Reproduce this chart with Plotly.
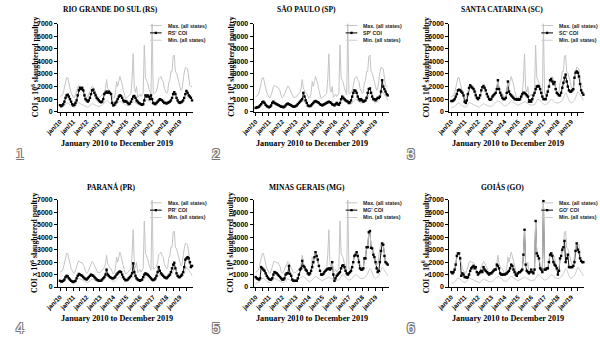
import pandas as pd
import plotly.graph_objects as go

# Monthly series, January 2010 to December 2019 (COI x 10^6 slaughtered poultry)
months = pd.date_range("2010-01-01", periods=120, freq="MS")

max_all_states = [
    1200, 1250, 1300, 1500, 1900, 2500, 2700, 2700, 2300, 1650, 1500, 1350,
    1150, 1100, 1300, 1600, 1950, 2100, 2000, 1950, 1950, 1800, 1650, 1250,
    1100, 1200, 1400, 1750, 1950, 2050, 1950, 1750, 1450, 1300, 1150, 1150,
    1150, 1250, 1350, 1450, 1550, 1850, 2550, 1850, 1650, 1550, 1450, 1150,
    1050, 1150, 1500, 2400, 2000, 2400, 2800, 2500, 2200, 1700, 1350, 1050,
    1100, 1200, 1250, 1350, 1450, 2600, 4600, 1850, 1550, 2000, 1150, 1250,
    1400, 1200, 1350, 1500, 5300, 2700, 2500, 2300, 1850, 1550, 1350, 7000,
    1450, 1450, 1550, 1650, 2050, 2600, 2700, 2800, 2550, 2400, 1850, 1550,
    1450, 1550, 2300, 2500, 3200, 3200, 4400, 4500, 3150, 3100, 2600, 2400,
    2000, 1700, 1800, 2700, 3100, 3500, 3500, 3400, 2500, 2100, 2000, 2000,
]

min_all_states = [
    300, 300, 350, 400, 500, 600, 700, 700, 650, 550, 450, 400,
    350, 350, 450, 600, 750, 700, 650, 600, 550, 500, 450, 400,
    400, 350, 400, 500, 600, 650, 600, 550, 500, 450, 400, 400,
    450, 450, 550, 650, 750, 800, 850, 850, 750, 700, 650, 500,
    450, 450, 500, 600, 700, 800, 850, 800, 750, 700, 600, 550,
    500, 550, 600, 650, 700, 750, 800, 750, 700, 600, 550, 500,
    500, 550, 550, 550, 700, 900, 1000, 950, 900, 800, 700, 600,
    550, 600, 600, 700, 800, 900, 1000, 950, 900, 800, 700, 700,
    650, 700, 750, 800, 900, 1100, 1400, 1500, 1400, 1100, 900, 750,
    700, 750, 800, 900, 1100, 1400, 1600, 1500, 1300, 1200, 1100, 900,
]

rs_coi = [
    520, 450, 500, 600, 800, 1100, 1300, 1350, 1200, 1000, 800, 600,
    500, 550, 700, 900, 1300, 1700, 1900, 1800, 1900, 1700, 1300, 1000,
    900, 800, 900, 1100, 1400, 1700, 1750, 1500, 1300, 1100, 1000, 900,
    800, 750, 800, 1000, 1400, 1500, 1600, 1500, 1600, 1500, 1400, 700,
    500, 550, 700, 800, 1000, 1200, 1300, 1250, 1100, 900, 800, 850,
    800, 700, 600, 650, 800, 1000, 1200, 1250, 1100, 900, 800, 700,
    650, 600, 550, 600, 900, 1300, 1200, 1300, 1200, 1000, 1300, 1000,
    700, 650, 600, 700, 800, 900, 1000, 950, 900, 800, 700, 700,
    650, 700, 750, 800, 900, 1100, 1400, 1550, 1400, 1100, 900, 750,
    700, 750, 800, 900, 1100, 1400, 1650, 1500, 1300, 1200, 1100, 900,
]

sp_coi = [
    300, 350, 350, 400, 500, 600, 750, 800, 700, 550, 450, 400,
    350, 400, 500, 700, 800, 700, 650, 600, 550, 500, 450, 400,
    400, 350, 400, 500, 600, 650, 600, 550, 500, 450, 400, 400,
    450, 500, 600, 700, 800, 900, 1000, 1500, 1200, 900, 700, 500,
    450, 450, 500, 600, 700, 800, 850, 800, 750, 700, 600, 550,
    500, 550, 600, 650, 700, 750, 800, 750, 700, 600, 550, 500,
    600, 700, 600, 550, 700, 1000, 1200, 1100, 1000, 900, 850, 800,
    700, 750, 900, 1200, 1500, 1700, 1650, 1500, 1200, 1000, 900, 1000,
    900, 800, 850, 900, 1100, 1500, 1800, 1850, 1500, 1200, 1000, 1000,
    900, 1000, 1100, 1100, 1200, 1600, 2500, 2000, 1800, 1600, 1400, 1300,
]

sc_coi = [
    850, 850, 900, 1000, 1200, 1400, 1700, 1750, 1700, 1600, 1500, 1300,
    800, 700, 900, 1400, 1900, 2100, 2000, 1900, 1800, 1600, 1300, 1100,
    1000, 1100, 1300, 1700, 1950, 2050, 1900, 1700, 1400, 1200, 1000, 950,
    1000, 1200, 1300, 1400, 1500, 1800, 2500, 1800, 1500, 1300, 1100, 1000,
    1000, 1100, 1500, 2400, 1600, 1400, 1300, 1200, 1100, 1000, 1000, 950,
    1000, 950, 1000, 1200, 1400, 1500, 1500, 1400, 1300, 1200, 800, 900,
    800, 1000, 1300, 1500, 1800, 2000, 2050, 2000, 1800, 1500, 1200, 1000,
    1000, 1000, 1300, 1600, 2000, 2500, 2600, 2400, 2200, 2350, 1800, 1500,
    1400, 1300, 1300, 1500, 1900, 2300, 2700, 2950, 2400, 2000, 1700, 1600,
    1600, 1700, 1800, 2700, 3100, 3200, 3100, 2800, 2200, 1700, 1500, 1350,
]

pr_coi = [
    500, 450, 450, 500, 600, 800, 900, 850, 700, 600, 500, 450,
    400, 450, 500, 700, 900, 1050, 1000, 950, 900, 800, 700, 650,
    600, 700, 800, 900, 1000, 950, 900, 800, 700, 600, 550, 500,
    500, 500, 600, 700, 800, 1000, 1400, 1000, 900, 800, 750, 700,
    700, 750, 850, 1000, 1100, 1200, 1250, 1200, 1000, 800, 650, 550,
    550, 600, 700, 800, 900, 1100, 1900, 1200, 900, 700, 600, 550,
    500, 550, 600, 800, 1000, 1100, 1050, 1000, 900, 800, 700, 600,
    550, 600, 700, 900, 1200, 1600, 1300, 1100, 1000, 900, 800, 750,
    700, 800, 900, 1000, 1200, 1500, 1800, 1950, 1500, 1100, 900, 800,
    800, 900, 1000, 1200, 1600, 2200, 2300, 2400, 2300, 2000, 1600, 1700,
]

mg_coi = [
    800, 700, 650, 600, 700, 1600, 1500, 1400, 1300, 1100, 900, 750,
    650, 600, 600, 700, 1000, 1200, 1150, 1100, 1000, 900, 800, 700,
    600, 600, 700, 1000, 1100, 1100, 1700, 1050, 900, 600, 500, 500,
    500, 500, 700, 1000, 1400, 1500, 2100, 1700, 1600, 1400, 1300, 1100,
    1000, 1100, 1300, 1600, 2000, 2400, 2800, 2500, 2200, 1700, 1300, 1000,
    1000, 1050, 1200, 1300, 1400, 1450, 1500, 1400, 1500, 2000, 1000, 500,
    700, 900, 1000, 1100, 1200, 1500, 1700, 1750, 1600, 1300, 1100, 1000,
    1100, 1200, 1300, 1600, 2000, 2500, 2600, 2800, 2500, 2000, 1500, 1400,
    1400, 1500, 2300, 2300, 3200, 3200, 4400, 4500, 3150, 3100, 2600, 2400,
    2000, 1500, 1200, 1300, 2000, 2900, 3500, 3400, 2500, 2000, 1900, 1800,
]

go_coi = [
    1200, 1100, 1200, 1400, 1800, 2500, 2700, 2700, 2300, 900, 1100, 1000,
    800, 800, 750, 800, 1000, 1300, 1500, 1600, 1700, 1500, 1600, 1200,
    1000, 1100, 1200, 1300, 1200, 1600, 1400, 1300, 1200, 1100, 1000, 1100,
    1100, 1200, 1300, 1400, 1400, 1800, 1700, 1500, 1100, 1000, 1000, 1000,
    1000, 1050, 1100, 1200, 1300, 1500, 1800, 1700, 1400, 1200, 1000, 900,
    1100, 1200, 1200, 1300, 1400, 2600, 4600, 1800, 1300, 1200, 1100, 1200,
    1400, 1200, 1100, 1400, 5300, 2700, 2500, 2300, 1500, 1400, 1200, 6900,
    1400, 1400, 1500, 1500, 2000, 2600, 2700, 2500, 2000, 1800, 1700, 1500,
    1000, 1300, 2300, 2500, 3000, 3200, 3700, 2000, 2300, 2600, 1600, 1600,
    1600, 1600, 1700, 2000, 2900, 3500, 3000, 2800, 2300, 2100, 2000, 2000,
]

panel_titles = [
    "RIO GRANDE DO SUL (RS)", "SÃO PAULO (SP)", "SANTA CATARINA (SC)",
    "PARANÁ (PR)", "MINAS GERAIS (MG)", "GOIÁS (GO)",
]
state_codes = ["RS", "SP", "SC", "PR", "MG", "GO"]
state_series = [rs_coi, sp_coi, sc_coi, pr_coi, mg_coi, go_coi]
panel_numbers = ["1", "2", "3", "4", "5", "6"]

y_tick_values = [0, 1000, 2000, 3000, 4000, 5000, 6000, 7000]
year_labels = ["jan/10", "jan/11", "jan/12", "jan/13", "jan/14",
               "jan/15", "jan/16", "jan/17", "jan/18", "jan/19"]
jan_ticks = pd.date_range("2010-01-01", "2019-01-01", freq="12MS")
jul_ticks = pd.date_range("2010-07-01", "2019-07-01", freq="12MS")

# Page geometry (pixels) used to place each panel
W, H = 600, 339
col_offset = [0, 200, 400]
row_plot = [(20, 110), (200, 289)]   # top / bottom pixel of each plot area
row_title = [6, 187]
row_xtitle = [142, 321]
row_number = [153, 331]
row_legend = [22, 203]


def fx(px):
    return px / W


def fy(py):
    return 1 - py / H


SANS = "Liberation Sans, Arial, sans-serif"
SERIF = "Liberation Serif, Times New Roman, serif"
GREY_MAX = "#c4c4c4"
GREY_MIN = "#cdcdcd"

fig = go.Figure()
layout = dict(
    width=W, height=H,
    margin=dict(l=0, r=0, t=0, b=0),
    paper_bgcolor="white", plot_bgcolor="white",
    showlegend=False,
)
annotations = []
shapes = []

for i in range(6):
    r, c = divmod(i, 3)
    ox = col_offset[c]
    top, bottom = row_plot[r]
    suffix = "" if i == 0 else str(i + 1)
    xref, yref = "x" + suffix, "y" + suffix
    state_name = f"{state_codes[i]}' COI"

    # state line underneath, envelope lines over it, markers on top
    fig.add_trace(go.Scatter(
        x=months, y=state_series[i], mode="lines", name=state_name,
        line=dict(color="black", width=0.9), xaxis=xref, yaxis=yref,
    ))
    fig.add_trace(go.Scatter(
        x=months, y=max_all_states, mode="lines", name="Max. (all states)",
        line=dict(color=GREY_MAX, width=1), xaxis=xref, yaxis=yref,
    ))
    fig.add_trace(go.Scatter(
        x=months, y=min_all_states, mode="lines", name="Min. (all states)",
        line=dict(color=GREY_MIN, width=1), xaxis=xref, yaxis=yref,
    ))
    fig.add_trace(go.Scatter(
        x=months, y=state_series[i], mode="markers", name=state_name,
        marker=dict(symbol="square", size=2.4, color="black"),
        xaxis=xref, yaxis=yref, cliponaxis=False,
    ))

    layout["xaxis" + suffix] = dict(
        domain=[fx(ox + 46), fx(ox + 184)],
        range=["2009-11-07", "2019-12-28"],
        anchor=yref, showgrid=False, zeroline=False,
        showline=True, linecolor="black", linewidth=1,
        ticks="outside", ticklen=3, tickwidth=1, tickcolor="black",
        tickmode="array", tickvals=jan_ticks, ticktext=year_labels,
        tickangle=-45,
        tickfont=dict(family=SANS, size=6.3, color="black", weight="bold"),
        minor=dict(tickmode="array", tickvals=jul_ticks, ticks="outside",
                   ticklen=3, tickwidth=1, tickcolor="black", showgrid=False),
    )
    layout["yaxis" + suffix] = dict(
        domain=[fy(bottom), fy(top)], range=[0, 7000],
        anchor=xref, showgrid=False, zeroline=False,
        showline=True, linecolor="black", linewidth=1,
        ticks="outside", ticklen=3, tickwidth=1, tickcolor="black",
        tickmode="array", tickvals=y_tick_values,
        tickfont=dict(family=SANS, size=7, color="black", weight="bold"),
    )

    # panel title
    annotations.append(dict(
        text=panel_titles[i], x=fx(ox + 100), y=fy(row_title[r]),
        xref="paper", yref="paper", showarrow=False,
        xanchor="center", yanchor="middle",
        font=dict(family=SERIF, size=7.5, color="black", weight="bold"),
    ))
    # y-axis title
    annotations.append(dict(
        text="COI x 10<sup>6</sup> slaughtered poultry",
        x=fx(ox + 22), y=fy((top + bottom) / 2 - 1),
        xref="paper", yref="paper", showarrow=False, textangle=-90,
        xanchor="center", yanchor="middle",
        font=dict(family=SERIF, size=7.8, color="black", weight="bold"),
    ))
    # x-axis title
    annotations.append(dict(
        text="January 2010 to December 2019",
        x=fx(ox + 106), y=fy(row_xtitle[r]),
        xref="paper", yref="paper", showarrow=False,
        xanchor="center", yanchor="middle",
        font=dict(family=SERIF, size=8.2, color="black", weight="bold"),
    ))
    # outlined panel number
    annotations.append(dict(
        text=panel_numbers[i], x=fx(ox + 7), y=fy(row_number[r]),
        xref="paper", yref="paper", showarrow=False,
        xanchor="center", yanchor="middle",
        font=dict(family=SANS, size=14, color="white",
                  shadow="-1px -1px 0 #777, 1px -1px 0 #777, "
                         "-1px 1px 0 #777, 1px 1px 0 #777"),
    ))

    # legend block
    ly = row_legend[r]
    legend_rows = [
        ("Max. (all states)", GREY_MAX, False),
        (state_name, "black", True),
        ("Min. (all states)", GREY_MIN, False),
    ]
    for k, (label, colr, with_marker) in enumerate(legend_rows):
        yy = ly + k * 7.5
        shapes.append(dict(
            type="line", xref="paper", yref="paper",
            x0=fx(ox + 140), x1=fx(ox + 152), y0=fy(yy), y1=fy(yy),
            line=dict(color=colr, width=1),
        ))
        if with_marker:
            shapes.append(dict(
                type="rect", xref="paper", yref="paper",
                x0=fx(ox + 144.8), x1=fx(ox + 147.2),
                y0=fy(yy + 1.2), y1=fy(yy - 1.2),
                fillcolor="black", line=dict(width=0),
            ))
        annotations.append(dict(
            text=label, x=fx(ox + 156), y=fy(yy),
            xref="paper", yref="paper", showarrow=False,
            xanchor="left", yanchor="middle",
            font=dict(family=SANS, size=5.2, color="#222", weight="bold"),
        ))

layout["annotations"] = annotations
layout["shapes"] = shapes
fig.update_layout(**layout)
fig.write_html("out.html")
